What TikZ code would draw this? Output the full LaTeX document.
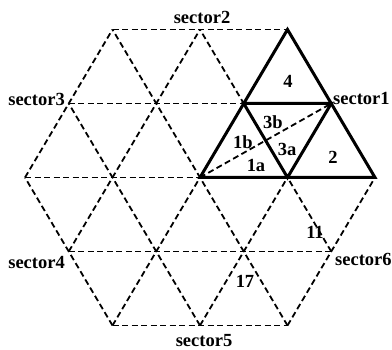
\documentclass[tikz,border=0pt]{standalone}
\usepackage{fontspec}
\setmainfont{Liberation Serif}
\begin{document}
\begin{tikzpicture}[x=1pt,y=-1pt,
  gridline/.style={line width=1.8pt, dash pattern=on 6pt off 3.5pt},
  boldline/.style={line width=3pt, line join=miter},
  lbl/.style={font=\fontsize{18.5}{19}\selectfont\bfseries, inner sep=0pt}]
\useasboundingbox (0,0) rectangle (392,350);
\foreach \i in {-2,...,2}
  \foreach \j in {-2,...,2}
    \coordinate (p\i_\j) at ({200+87.5*(\i+\j/2)},{177.5-74*\j});
% horizontal grid lines
\draw[gridline] (p-2_2) -- (p0_2);
\draw[gridline] (p-2_1) -- (p1_1);
\draw[gridline] (p-2_0) -- (p2_0);
\draw[gridline] (p-1_-1) -- (p2_-1);
\draw[gridline] (p0_-2) -- (p2_-2);
% rising grid lines
\draw[gridline] (p-2_0) -- (p-2_2);
\draw[gridline] (p-1_-1) -- (p-1_2);
\draw[gridline] (p0_-2) -- (p0_2);
\draw[gridline] (p1_-2) -- (p1_1);
\draw[gridline] (p2_-2) -- (p2_0);
% falling grid lines
\draw[gridline] (p0_-2) -- (p-2_0);
\draw[gridline] (p1_-2) -- (p-2_1);
\draw[gridline] (p2_-2) -- (p-2_2);
\draw[gridline] (p2_-1) -- (p-1_2);
\draw[gridline] (p2_0) -- (p0_2);
% bold triangle of sector 1
\draw[boldline] (p0_2) -- (p0_0) -- (p2_0) -- cycle;
\draw[boldline] (p0_1) -- (p1_1) -- (p1_0) -- cycle;
\draw[gridline] (p0_0) -- (p1_1);
% sector labels
\node[lbl, anchor=base west] (s1) at (333,104.5) {sector1};
\node[lbl, anchor=base] (s2) at (202,24) {sector2};
\node[lbl, anchor=base east] (s3) at (65,106) {sector3};
\node[lbl, anchor=base east] (s4) at (65,269) {sector4};
\node[lbl, anchor=base] (s5) at (204,347) {sector5};
\node[lbl, anchor=base west] (s6) at (335,266) {sector6};
% region labels
\node[lbl] (r4) at (288,81) {4};
\node[lbl] (r3b) at (273,122) {3b};
\node[lbl] (r1b) at (243,142) {1b};
\node[lbl] (r3a) at (287,149) {3a};
\node[lbl] (r1a) at (256,165) {1a};
\node[lbl] (r2) at (333,157) {2};
\node[lbl] (r11) at (315,232) {11};
\node[lbl] (r17) at (245,281) {17};
\end{tikzpicture}
\end{document}
